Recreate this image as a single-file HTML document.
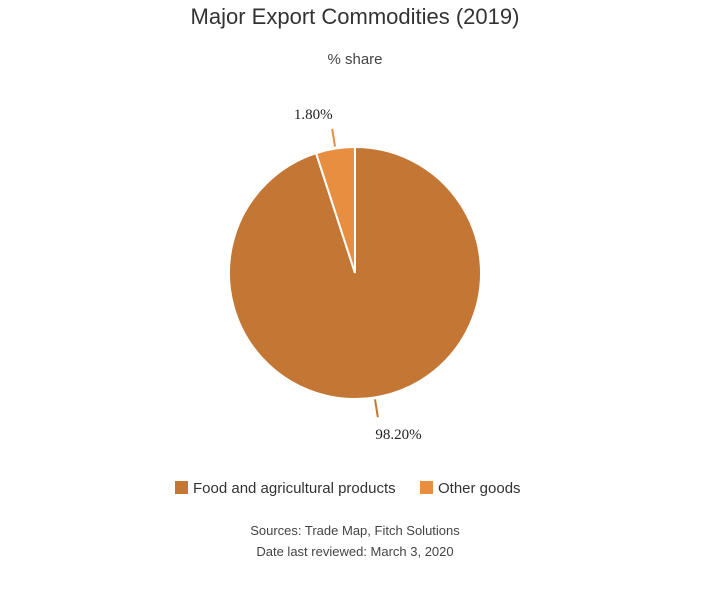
<!DOCTYPE html>
<html><head><meta charset="utf-8"><style>
body{margin:0;background:#fff;width:710px;height:588px;overflow:hidden;font-family:"Liberation Sans",sans-serif;color:#333}
</style></head><body>
<svg width="710" height="588">
<text x="355" y="24" text-anchor="middle" font-size="22" fill="#333">Major Export Commodities (2019)</text>
<text x="355" y="64" text-anchor="middle" font-size="15" fill="#444">% share</text>
<g id="pie"></g>
<g>
<g><rect x="175" y="481" width="13" height="13" fill="#c47634"/><text x="193" y="493" font-size="15" fill="#333">Food and agricultural products</text></g>
<g><rect x="420" y="481" width="13" height="13" fill="#e88e40"/><text x="438" y="493" font-size="15" fill="#333">Other goods</text></g>
</g>
<text x="355" y="535" text-anchor="middle" font-size="13" fill="#444">Sources: Trade Map, Fitch Solutions</text>
<text x="355" y="556" text-anchor="middle" font-size="13" fill="#444">Date last reviewed: March 3, 2020</text>
</svg>
<script>
const categories=["Food and agricultural products","Other goods"];
const values=[98.2,1.8];
const valueLabels=["98.20%","1.80%"];
const colors=["#c47634","#e88e40"];
const cx=355,cy=273,r=126,minAngle=18;
const g=document.getElementById('pie');
const ns='http://www.w3.org/2000/svg';
const total=values.reduce((a,b)=>a+b,0);
let angs=values.map(v=>v/total*360);
let deficit=0,bigSum=0;
angs.forEach(a=>{if(a<minAngle)deficit+=minAngle-a;else bigSum+=a;});
angs=angs.map(a=>a<minAngle?minAngle:a-deficit*a/bigSum);
function pt(deg,rad){const t=deg*Math.PI/180;return [cx+rad*Math.sin(t),cy-rad*Math.cos(t)];}
let start=0;
angs.forEach((a,i)=>{
  const end=start+a;
  const p1=pt(start,r),p2=pt(end,r);
  const path=document.createElementNS(ns,'path');
  path.setAttribute('d',`M${cx},${cy}L${p1[0]},${p1[1]}A${r},${r} 0 ${a>180?1:0} 1 ${p2[0]},${p2[1]}Z`);
  path.setAttribute('fill',colors[i]);path.setAttribute('stroke','#fff');path.setAttribute('stroke-width','2');
  
  
  g.appendChild(path);
  const mid=start+a/2;
  const l1=pt(mid,r+2),l2=pt(mid,r+20);
  const line=document.createElementNS(ns,'line');
  line.setAttribute('x1',l1[0]);line.setAttribute('y1',l1[1]);line.setAttribute('x2',l2[0]);line.setAttribute('y2',l2[1]);
  line.setAttribute('stroke',colors[i]);line.setAttribute('stroke-width','2');
  
  
  g.appendChild(line);
  const lp=pt(mid,r+30);
  const t=document.createElementNS(ns,'text');
  const right=Math.sin(mid*Math.PI/180)>0;
  t.setAttribute('x',lp[0]+(right?-4:2));
  t.setAttribute('y',lp[1]+(Math.cos(mid*Math.PI/180)<0?12:0));
  t.setAttribute('text-anchor',right?'start':'end');
  t.setAttribute('font-family','"Liberation Serif",serif');t.setAttribute('font-size','15');t.setAttribute('fill','#222');
  t.textContent=valueLabels[i];
  
  
  g.appendChild(t);
  start=end;
});
</script>
</body></html>
